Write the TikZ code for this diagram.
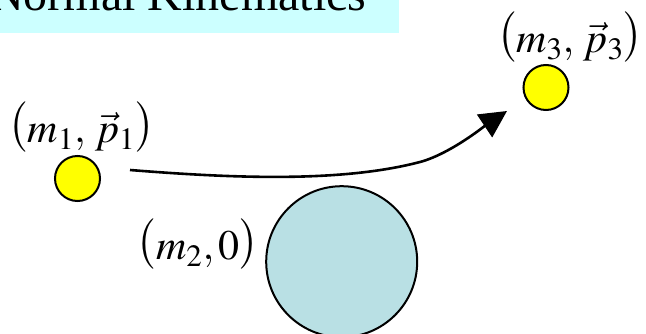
\documentclass[tikz,border=0pt]{standalone}
\usepackage{mathptmx}
\usepackage[no-math]{fontspec}
\setmainfont{Liberation Serif}
\usetikzlibrary{arrows.meta}
\definecolor{titlebg}{RGB}{204,255,255}
\definecolor{ballyellow}{RGB}{255,255,0}
\definecolor{bigblue}{RGB}{185,224,228}
\newcommand{\lpar}{\mathopen{\raisebox{5pt}{$\bigl($}}}
\newcommand{\rpar}{\mathclose{\raisebox{5pt}{$\bigr)$}}}
\tikzset{
  smallball/.style={circle, draw=black, line width=2pt, fill=ballyellow, minimum size=45pt, inner sep=0pt},
  bigball/.style={circle, draw=black, line width=2pt, fill=bigblue, minimum size=151pt, inner sep=0pt},
  lab/.style={inner sep=0pt, anchor=base, font=\fontsize{42}{50}\selectfont},
  motion/.style={line width=2.6pt, -{Triangle[length=27pt,width=27pt]}}
}
\begin{document}
\begin{tikzpicture}[x=1pt,y=-1pt]
\useasboundingbox (0,0) rectangle (646,334);
\clip (0,0) rectangle (646,334);
\fill[titlebg] (0,0) rectangle (399,33);
\node[anchor=base west, inner sep=0pt, font=\fontsize{48}{56}\selectfont] (title) at (-11,11) {Normal Kinematics};
\node[smallball] (b1) at (77.5,178.5) {};
\node[smallball] (b3) at (546,87.5) {};
\node[bigball] (b2) at (341.7,261.7) {};
\node[lab] (l1) at (81.5,143) {$\lpar m_{1},\,\vec{p}_{1}\rpar$};
\node[lab] (l3) at (570,53) {$\lpar m_{3},\,\vec{p}_{3}\rpar$};
\node[lab] (l2) at (198,260) {$\lpar m_{2},0\rpar$};
\coordinate (s) at (130,170);
\coordinate (m) at (420,162);
\coordinate (t) at (507,111);
\draw[motion] (s) .. controls (230,178) and (340,183) .. (m) .. controls (450,154) and (486,125) .. (t);
\end{tikzpicture}
\end{document}
